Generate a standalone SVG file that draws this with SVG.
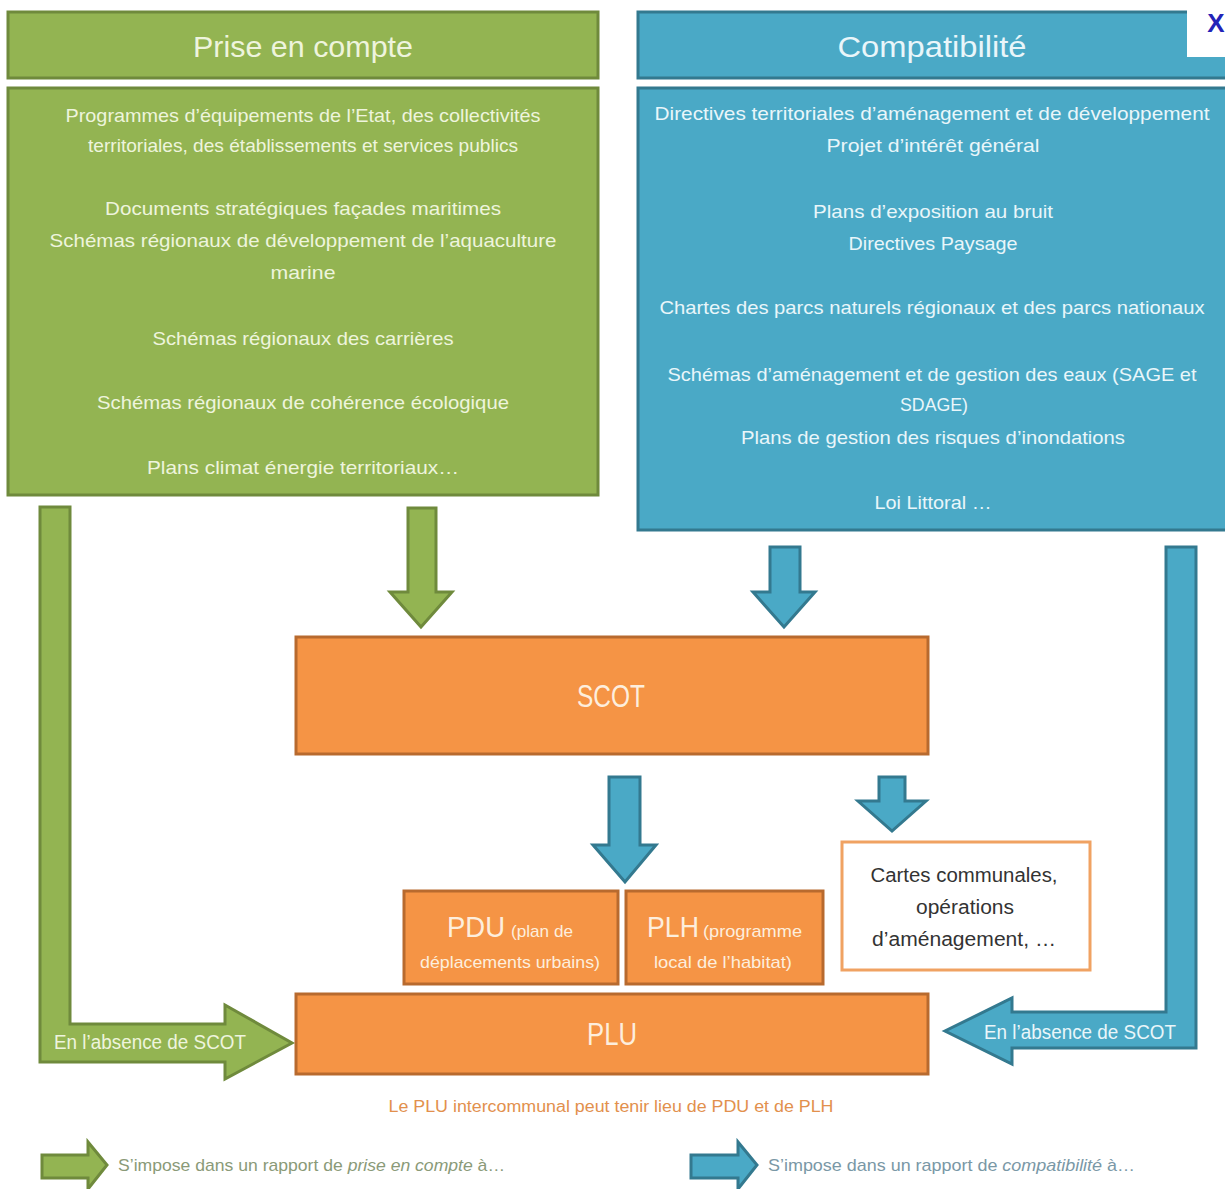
<svg xmlns="http://www.w3.org/2000/svg" width="1225" height="1189" viewBox="0 0 1225 1189">
<style>
.g{fill:#93b452;stroke:#6f8a3c;stroke-width:3}
.b{fill:#4aa9c6;stroke:#33798f;stroke-width:3}
.o{fill:#f59445;stroke:#b86a2e;stroke-width:3}
.t{font-family:"Liberation Sans",Arial,sans-serif;text-anchor:middle}
.tg{fill:#eef4dd;font-size:19px}
.tb{fill:#e9f6fa;font-size:19px}
.th{font-size:30px}
.to{fill:#fdeedd}
.big{font-size:31px}
</style>
<rect width="1225" height="1189" fill="#ffffff"/>

<g id="prise-header">
<rect class="g" x="8" y="12" width="590" height="66"/>
<text class="t th" x="303" y="57" fill="#eef4dd" textLength="220" lengthAdjust="spacingAndGlyphs">Prise en compte</text>
</g>
<g id="prise-content">
<rect class="g" x="8" y="88" width="590" height="407"/>
<text class="t tg" x="303" y="122" textLength="475" lengthAdjust="spacingAndGlyphs">Programmes d’équipements de l’Etat, des collectivités</text>
<text class="t tg" x="303" y="152" textLength="430" lengthAdjust="spacingAndGlyphs">territoriales, des établissements et services publics</text>
<text class="t tg" x="303" y="215" textLength="396" lengthAdjust="spacingAndGlyphs">Documents stratégiques façades maritimes</text>
<text class="t tg" x="303" y="247" textLength="507" lengthAdjust="spacingAndGlyphs">Schémas régionaux de développement de l’aquaculture</text>
<text class="t tg" x="303" y="279" textLength="65" lengthAdjust="spacingAndGlyphs">marine</text>
<text class="t tg" x="303" y="345" textLength="301" lengthAdjust="spacingAndGlyphs">Schémas régionaux des carrières</text>
<text class="t tg" x="303" y="409" textLength="412" lengthAdjust="spacingAndGlyphs">Schémas régionaux de cohérence écologique</text>
<text class="t tg" x="303" y="474" textLength="312" lengthAdjust="spacingAndGlyphs">Plans climat énergie territoriaux…</text>
</g>

<g id="compat-header">
<rect class="b" x="638" y="12" width="592" height="66"/>
<text class="t th" x="932" y="57" fill="#e9f6fa" textLength="189" lengthAdjust="spacingAndGlyphs">Compatibilité</text>
</g>
<g id="compat-content">
<rect class="b" x="638" y="88" width="592" height="442"/>
<text class="t tb" x="932" y="120" textLength="555" lengthAdjust="spacingAndGlyphs">Directives territoriales d’aménagement et de développement</text>
<text class="t tb" x="933" y="152" textLength="213" lengthAdjust="spacingAndGlyphs">Projet d’intérêt général</text>
<text class="t tb" x="933" y="218" textLength="240" lengthAdjust="spacingAndGlyphs">Plans d’exposition au bruit</text>
<text class="t tb" x="933" y="250" textLength="169" lengthAdjust="spacingAndGlyphs">Directives Paysage</text>
<text class="t tb" x="932" y="314" textLength="545" lengthAdjust="spacingAndGlyphs">Chartes des parcs naturels régionaux et des parcs nationaux</text>
<text class="t tb" x="932" y="381" textLength="529" lengthAdjust="spacingAndGlyphs">Schémas d’aménagement et de gestion des eaux (SAGE et</text>
<text class="t tb" x="934" y="411" textLength="68" lengthAdjust="spacingAndGlyphs">SDAGE)</text>
<text class="t tb" x="933" y="444" textLength="384" lengthAdjust="spacingAndGlyphs">Plans de gestion des risques d’inondations</text>
<text class="t tb" x="933" y="509" textLength="117" lengthAdjust="spacingAndGlyphs">Loi Littoral …</text>
</g>

<g id="close">
<rect x="1187" y="0" width="38" height="57" fill="#ffffff"/>
<text x="1216" y="32" class="t" font-size="26" font-weight="bold" fill="#2323b8">X</text>
</g>

<g id="connectors">
<polygon class="g" points="40,507 70,507 70,1024 225,1024 225,1005 292,1043 225,1079 225,1062 40,1062"/>
<polygon class="g" points="408,508 436,508 436,592 452,592 421,627 390,592 408,592"/>
<polygon class="b" points="770,547 800,547 800,592 815,592 784,627 753,592 770,592"/>
<polygon class="b" points="1166,547 1196,547 1196,1048 1012,1048 1012,1064 945,1031 1012,998 1012,1012 1166,1012"/>
<polygon class="b" points="609,777 640,777 640,845 656,845 625,882 593,845 609,845"/>
<polygon class="b" points="879,777 905,777 905,801 926,801 892,831 858,801 879,801"/>
<text class="t" x="150" y="1049" font-size="20" fill="#eef4dd" textLength="192" lengthAdjust="spacingAndGlyphs">En l’absence de SCOT</text>
<text class="t" x="1080" y="1039" font-size="20" fill="#e9f6fa" textLength="192" lengthAdjust="spacingAndGlyphs">En l’absence de SCOT</text>
</g>

<g id="scot">
<rect class="o" x="296" y="637" width="632" height="117"/>
<text class="t to big" x="611" y="707" textLength="68" lengthAdjust="spacingAndGlyphs">SCOT</text>
</g>

<g id="pdu">
<rect class="o" x="404" y="891" width="214" height="93"/>
<text x="447" y="937" fill="#fdeedd" font-family="Liberation Sans, Arial, sans-serif"><tspan font-size="30" textLength="58" lengthAdjust="spacingAndGlyphs">PDU</tspan><tspan x="511" font-size="17" textLength="62" lengthAdjust="spacingAndGlyphs">(plan de</tspan></text>
<text class="t to" x="510" y="968" font-size="17" textLength="180" lengthAdjust="spacingAndGlyphs">déplacements urbains)</text>
</g>

<g id="plh">
<rect class="o" x="626" y="891" width="197" height="93"/>
<text x="647" y="937" fill="#fdeedd" font-family="Liberation Sans, Arial, sans-serif"><tspan font-size="30" textLength="52" lengthAdjust="spacingAndGlyphs">PLH</tspan><tspan x="703" font-size="17" textLength="99" lengthAdjust="spacingAndGlyphs">(programme</tspan></text>
<text class="t to" x="723" y="968" font-size="17" textLength="138" lengthAdjust="spacingAndGlyphs">local de l’habitat)</text>
</g>

<g id="cartes">
<rect x="842" y="842" width="248" height="128" fill="#ffffff" stroke="#f0a262" stroke-width="3"/>
<text class="t" x="964" y="882" font-size="20" fill="#333333" textLength="187" lengthAdjust="spacingAndGlyphs">Cartes communales,</text>
<text class="t" x="965" y="914" font-size="20" fill="#333333" textLength="98" lengthAdjust="spacingAndGlyphs">opérations</text>
<text class="t" x="964" y="946" font-size="20" fill="#333333" textLength="184" lengthAdjust="spacingAndGlyphs">d’aménagement,  …</text>
</g>

<g id="plu">
<rect class="o" x="296" y="994" width="632" height="80"/>
<text class="t to big" x="612" y="1045" textLength="50" lengthAdjust="spacingAndGlyphs">PLU</text>
</g>

<g id="note">
<text class="t" x="611" y="1112" font-size="16" fill="#e2904d" textLength="445" lengthAdjust="spacingAndGlyphs">Le PLU intercommunal peut tenir lieu de PDU et de PLH</text>
</g>

<g id="legend-prise">
<polygon class="g" points="42,1155 88,1155 88,1142 107,1165 88,1189 88,1178 42,1178"/>
<text x="118" y="1171" font-size="17" fill="#8a9a78" font-family="Liberation Sans, Arial, sans-serif" textLength="387" lengthAdjust="spacingAndGlyphs">S’impose dans un rapport de <tspan font-style="italic">prise en compte</tspan> à…</text>
</g>
<g id="legend-compat">
<polygon class="b" points="691,1155 738,1155 738,1142 757,1165 738,1189 738,1178 691,1178"/>
<text x="768" y="1171" font-size="17" fill="#7a98a6" font-family="Liberation Sans, Arial, sans-serif" textLength="367" lengthAdjust="spacingAndGlyphs">S’impose dans un rapport de <tspan font-style="italic">compatibilité</tspan> à…</text>
</g>
</svg>
